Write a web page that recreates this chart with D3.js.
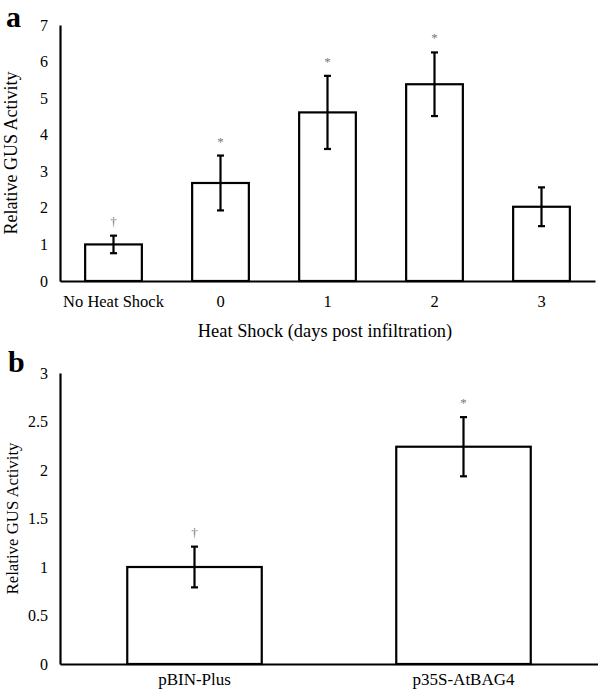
<!DOCTYPE html>
<html><head><meta charset="utf-8">
<script src="https://cdn.jsdelivr.net/npm/d3@7/dist/d3.min.js"></script>
<style>body{margin:0;background:#fff}svg{display:block}text{font-family:"Liberation Serif","Times New Roman",serif}</style>
</head><body>
<script>
// Panel a data
const catsA = ["No Heat Shock","0","1","2","3"];
const valsA = [1.0, 2.68, 4.61, 5.38, 2.03];
const errA  = [0.24, 0.75, 1.0, 0.87, 0.53];
const markA = ["†","*","*","*",""];
const ticksA = [0,1,2,3,4,5,6,7];
// Panel b data
const catsB = ["pBIN-Plus","p35S-AtBAG4"];
const valsB = [1.0, 2.24];
const errB  = [0.21, 0.305];
const markB = ["†","*"];
const ticksB = [0,0.5,1,1.5,2,2.5,3];

const svg = d3.select("body").append("svg").attr("width",598).attr("height",691);

function panel(o){
  const g = svg.append("g");
  const x = d3.scaleBand().domain(o.cats).range([o.x0,o.x1]).paddingInner(o.pad).paddingOuter(o.pad/2);
  const y = d3.scaleLinear().domain([0,o.max]).range([o.y0,o.y1]);
  // bars
  g.selectAll("rect.bar").data(o.vals).join("rect")
    .attr("x",(d,i)=>x(o.cats[i])).attr("width",x.bandwidth())
    .attr("y",d=>y(d)).attr("height",d=>y(0)-y(d))
    .attr("fill","#fff").attr("stroke","#000").attr("stroke-width",2.2);
  // y axis
  const ya = d3.axisLeft(y).tickValues(o.ticks).tickSize(0).tickPadding(12).tickFormat(d3.format("~g"));
  const yg = g.append("g").attr("transform",`translate(${o.x0},0)`).call(ya);
  yg.select(".domain").attr("stroke","#000").attr("stroke-width",2.2);
  yg.selectAll("text").attr("font-size",16).attr("fill","#000").attr("font-family","Liberation Serif");
  // x axis
  const xa = d3.axisBottom(x).tickSize(0).tickPadding(o.xpad);
  const xg = g.append("g").attr("transform",`translate(0,${o.y0})`).call(xa);
  xg.select(".domain").attr("stroke","#000").attr("stroke-width",2.2);
  xg.selectAll("text").attr("font-size",o.xfs).attr("fill","#000").attr("font-family","Liberation Serif");
  // error bars
  o.vals.forEach((v,i)=>{
    const cx = x(o.cats[i]) + x.bandwidth()/2;
    const e = o.err[i];
    g.append("line").attr("x1",cx).attr("x2",cx).attr("y1",y(v+e)).attr("y2",y(v-e)).attr("stroke","#000").attr("stroke-width",2.2);
    [v+e,v-e].forEach(w=>g.append("line").attr("x1",cx-3.5).attr("x2",cx+3.5).attr("y1",y(w)).attr("y2",y(w)).attr("stroke","#000").attr("stroke-width",2.2));
    if(o.mark[i]) g.append("text").attr("x",cx).attr("y",y(v+e)-10).attr("text-anchor","middle")
      .attr("font-size",o.mark[i]==="*"?13:13).attr("fill","#777").text(o.mark[i]);
  });
  // y label
  g.append("text").attr("transform",`translate(${o.ylx},${(o.y0+o.y1)/2}) rotate(-90)`)
    .attr("text-anchor","middle").attr("dominant-baseline","central").attr("font-size",o.ylfs).attr("fill","#000").text("Relative GUS Activity");
  // panel letter
  g.append("text").attr("x",o.lx).attr("y",o.ly).attr("font-size",30).attr("font-weight","bold").attr("fill","#000").text(o.letter);
  return {x,y,g};
}

const A = panel({cats:catsA,vals:valsA,err:errA,mark:markA,ticks:ticksA,max:7,
  x0:60,x1:595,y0:281,y1:25,pad:0.47,xpad:14,xfs:16.5,ylx:11,ylfs:18,lx:6,ly:27,letter:"a"});
A.g.append("text").attr("x",325).attr("y",337).attr("text-anchor","middle").attr("font-size",18.4).attr("fill","#000")
  .text("Heat Shock (days post infiltration)");

panel({cats:catsB,vals:valsB,err:errB,mark:markB,ticks:ticksB,max:3,
  x0:60,x1:598,y0:664,y1:373,pad:0.5,xpad:9,xfs:17,ylx:12,ylfs:16.8,lx:8,ly:372,letter:"b"});
</script>
</body></html>
